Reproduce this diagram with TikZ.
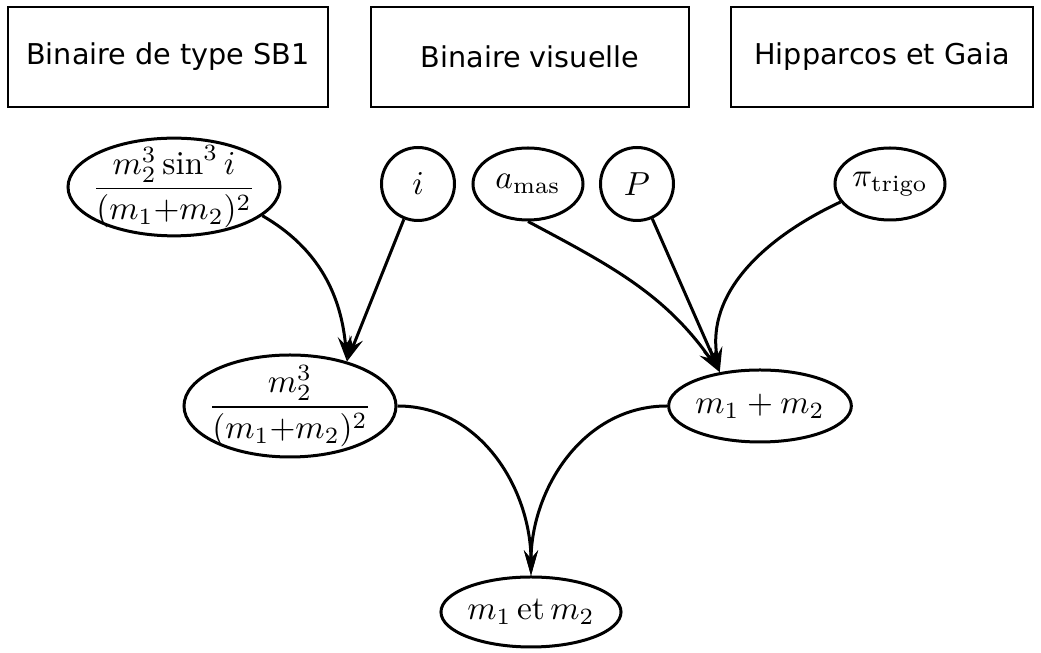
\documentclass[tikz,border=0pt]{standalone}
\usepackage{amsmath}
\usepackage{fontspec}
\newfontfamily\boxfont{DejaVu Sans}
\usetikzlibrary{shapes.geometric,arrows.meta}
\begin{document}
\begin{tikzpicture}[x=0.3pt,y=0.3pt,
  source/.style={draw,line width=0.7pt,minimum height=30pt,font=\boxfont\fontsize{8.6}{10}\selectfont},
  quantity/.style={draw,ellipse,line width=0.9pt,inner sep=0pt},
  angle/.style={draw,circle,line width=0.9pt,inner sep=0pt,minimum size=21.9pt},
  link/.style={-{Stealth[length=7.5pt,width=4.2pt,inset=2.5pt]},line width=0.9pt}]
\useasboundingbox (0,0) rectangle (1041,653);
% sources of the data
\node[source,minimum width=96pt] (sb) at (168,596) {Binaire de type SB1};
\node[source,minimum width=95.4pt] (vis) at (530,596) {Binaire visuelle};
\node[source,minimum width=90.6pt] (hip) at (882,596) {Hipparcos et Gaia};

% observed quantities
\node[quantity,inner sep=-2pt,minimum width=63.6pt,minimum height=28.5pt] (fm) at (174,466)
  {$\dfrac{m_2^3\sin^3 i}{(m_1{+}m_2)^2}$};
\node[angle] (i) at (418,469) {$i$};
\node[quantity,minimum width=33pt,minimum height=21.6pt] (amas) at (528,469) {$a_{\mathrm{mas}}$};
\node[angle] (P) at (637,469) {$P$};
\node[quantity,minimum width=33pt,minimum height=21.6pt] (pi) at (890,469) {$\pi_{\mathrm{trigo}}$};

% derived quantities
\node[quantity,inner sep=-2pt,minimum width=60pt,minimum height=30.6pt] (fmr) at (290,247)
  {$\dfrac{m_2^3}{(m_1{+}m_2)^2}$};
\node[quantity,minimum width=52.8pt,minimum height=21.6pt] (mtot) at (760,247) {$m_1+m_2$};
\node[quantity,minimum width=51.6pt,minimum height=21pt] (mboth) at (531,41) {$m_1\,\mathrm{et}\,m_2$};

\draw[link] (fm.-18) to[out=-30,in=95] (fmr.38);
\draw[link] (i) -- (fmr.38);
\draw[link] (amas.south) to[out=-28,in=125] (mtot.140);
\draw[link] (P) -- (mtot.140);
\draw[link] (pi.200) to[out=205,in=100] (mtot.140);
\draw[link] (fmr.east) to[out=0,in=90] (mboth.north);
\draw[link] (mtot.west) to[out=180,in=90] (mboth.north);
\end{tikzpicture}
\end{document}
